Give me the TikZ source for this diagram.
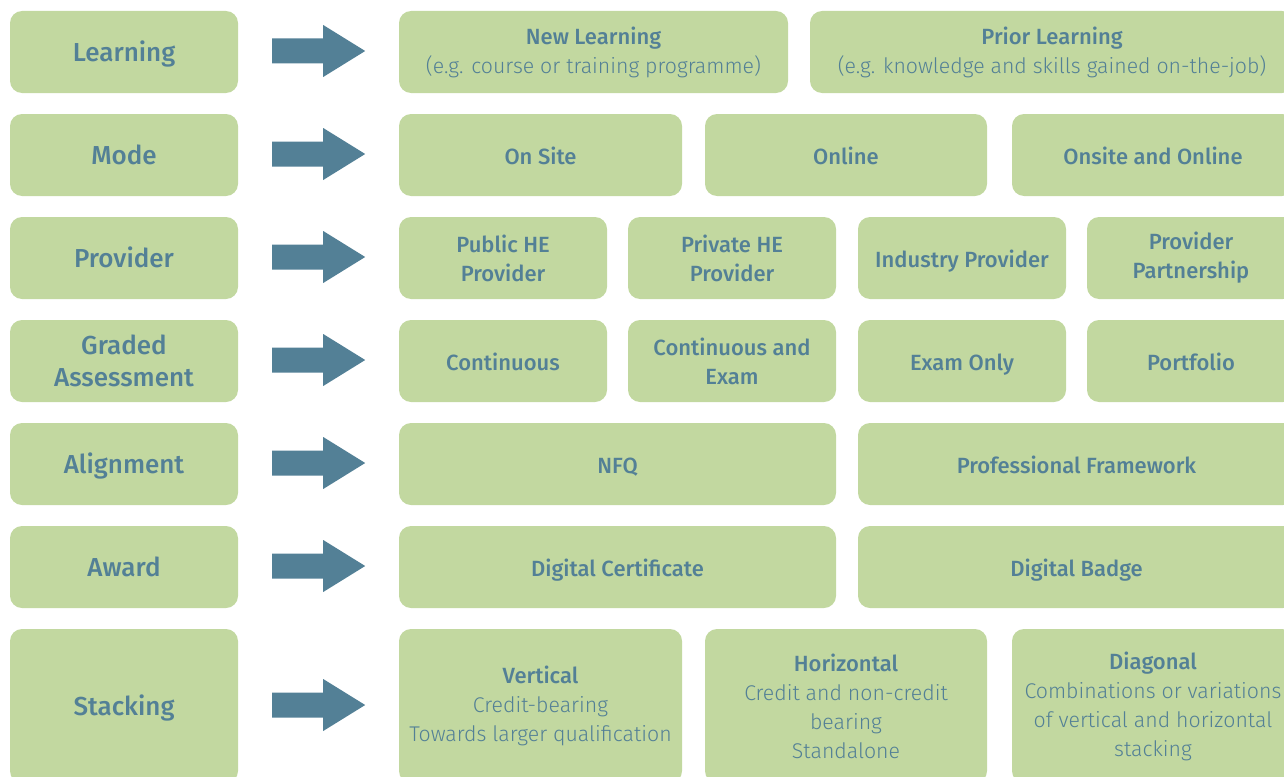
\documentclass[tikz,border=0pt]{standalone}
\usepackage{fontspec}
\setmainfont{Fira Sans}[BoldFont={Fira Sans Medium}]
\newfontfamily\lightfont{Fira Sans Light}
\definecolor{boxgreen}{HTML}{C2D8A0}
\definecolor{textblue}{HTML}{538096}

\begin{document}
\begin{tikzpicture}[x=1pt,y=-1pt,
    cat/.style={fill=boxgreen,rounded corners=12pt,inner sep=0pt,
        minimum width=228pt,minimum height=82pt,text=textblue,align=center,
        font={\fontsize{26}{32}\selectfont\bfseries}},
    opt/.style={fill=boxgreen,rounded corners=12pt,inner sep=0pt,
        minimum height=82pt,text=textblue,align=center,
        font={\fontsize{22}{29}\selectfont\bfseries}},
    one/.style={text height=19pt,text depth=0pt}]
\clip (0,0) rectangle (1284,776);
\useasboundingbox (0,0) rectangle (1284,776);
\newcommand\lt[1]{{\lightfont\mdseries\fontsize{21.3}{29}\selectfont #1}}

% categories
\node[cat,one] (learn) at (124,52) {Learning};
\node[cat,one] (mode) at (124,155) {Mode};
\node[cat,one] (prov) at (124,258) {Provider};
\node[cat] (grade) at (124,361) {Graded\\Assessment};
\node[cat,one] (align) at (124,464) {Alignment};
\node[cat,one] (award) at (124,567) {Award};
\node[cat,one,minimum height=154pt] (stack) at (124,706) {Stacking};

\foreach \r in {learn,mode,prov,grade,align,award,stack}
    \fill[textblue] ([yshift=1pt]\r.east) ++(34,-12.5) -- ++(51,0) -- ++(0,-13.5)
        -- ++(42,26) -- ++(-42,26) -- ++(0,-13.5) -- ++(-51,0) -- cycle;

% options
\node[opt,minimum width=389pt] (learnNew) at (593.5,52)
    {New Learning\\\lt{(e.g. course or training programme)}};
\node[opt,minimum width=484pt] (learnPrior) at (1052,52)
    {Prior Learning\\\lt{(e.g. knowledge and skills gained on-the-job)}};

\node[opt,one,minimum width=283pt] (modeSite) at (540.5,155) {On Site};
\node[opt,one,minimum width=282pt] (modeOnline) at (846,155) {Online};
\node[opt,one,minimum width=282pt] (modeBoth) at (1153,155) {Onsite and Online};

\node[opt,minimum width=208pt] (provPublic) at (503,258) {Public HE\\Provider};
\node[opt,minimum width=208pt] (provPrivate) at (732,258) {Private HE\\Provider};
\node[opt,one,minimum width=208pt] (provIndustry) at (962,258) {Industry Provider};
\node[opt,minimum width=208pt] (provPartner) at (1191,258) {Provider\\Partnership};

\node[opt,one,minimum width=208pt] (gradeCont) at (503,361) {Continuous};
\node[opt,minimum width=208pt] (gradeContExam) at (732,361) {Continuous and\\Exam};
\node[opt,one,minimum width=208pt] (gradeExam) at (962,361) {Exam Only};
\node[opt,one,minimum width=208pt] (gradePort) at (1191,361) {Portfolio};

\node[opt,one,minimum width=437pt] (alignNFQ) at (617.5,464) {NFQ};
\node[opt,one,minimum width=437pt] (alignProf) at (1076.5,464) {Professional Framework};

\node[opt,one,minimum width=437pt] (awardCert) at (617.5,567) {Digital Certificate};
\node[opt,one,minimum width=437pt] (awardBadge) at (1076.5,567) {Digital Badge};

\node[opt,minimum width=283pt,minimum height=154pt] (stackVert) at (540.5,706)
    {Vertical\\\lt{Credit-bearing}\\\lt{Towards larger qualification}};
\node[opt,minimum width=282pt,minimum height=154pt] (stackHor) at (846,706)
    {Horizontal\\\lt{Credit and non-credit}\\\lt{bearing}\\\lt{Standalone}};
\node[opt,minimum width=282pt,minimum height=154pt] (stackDiag) at (1153,706)
    {Diagonal\\\lt{Combinations or variations}\\\lt{of vertical and horizontal}\\\lt{stacking}};
\end{tikzpicture}
\end{document}
